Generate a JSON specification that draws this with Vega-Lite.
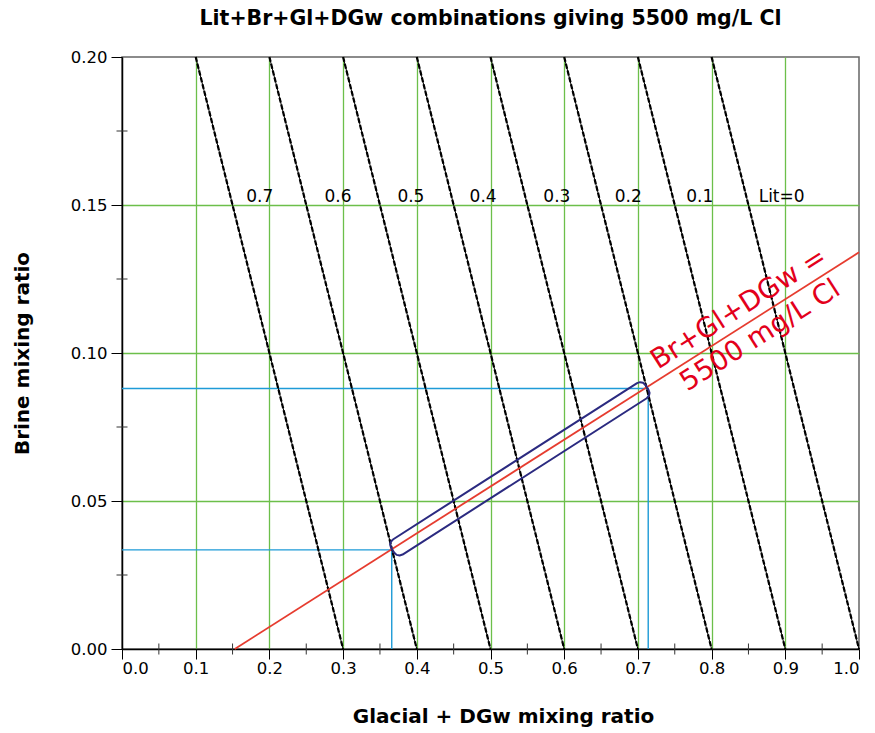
{
  "$schema": "https://vega.github.io/schema/vega-lite/v6.json",
  "width": 737,
  "height": 592,
  "autosize": {"type": "none"},
  "padding": {"left": 122, "top": 57, "right": 16, "bottom": 84},
  "background": "white",
  "config": {
    "view": {"stroke": "#666", "strokeWidth": 1.5},
    "font": "DejaVu Sans"
  },
  "title": {
    "text": "Lit+Br+Gl+DGw combinations giving 5500 mg/L Cl",
    "fontSize": 20.5,
    "fontWeight": "bold",
    "font": "DejaVu Sans",
    "color": "black",
    "anchor": "middle",
    "frame": "group",
    "offset": 20
  },
  "datasets": {
    "litlines": [
      {"lit": "0.7", "x": 0.1, "y": 0.2}, {"lit": "0.7", "x": 0.3, "y": 0},
      {"lit": "0.6", "x": 0.2, "y": 0.2}, {"lit": "0.6", "x": 0.4, "y": 0},
      {"lit": "0.5", "x": 0.3, "y": 0.2}, {"lit": "0.5", "x": 0.5, "y": 0},
      {"lit": "0.4", "x": 0.4, "y": 0.2}, {"lit": "0.4", "x": 0.6, "y": 0},
      {"lit": "0.3", "x": 0.5, "y": 0.2}, {"lit": "0.3", "x": 0.7, "y": 0},
      {"lit": "0.2", "x": 0.6, "y": 0.2}, {"lit": "0.2", "x": 0.8, "y": 0},
      {"lit": "0.1", "x": 0.7, "y": 0.2}, {"lit": "0.1", "x": 0.9, "y": 0},
      {"lit": "0", "x": 0.8, "y": 0.2}, {"lit": "0", "x": 1.0, "y": 0}
    ],
    "litlabels": [
      {"label": "0.7", "x": 0.187, "y": 0.1511},
      {"label": "0.6", "x": 0.293, "y": 0.1511},
      {"label": "0.5", "x": 0.392, "y": 0.1511},
      {"label": "0.4", "x": 0.490, "y": 0.1511},
      {"label": "0.3", "x": 0.590, "y": 0.1511},
      {"label": "0.2", "x": 0.687, "y": 0.1511},
      {"label": "0.1", "x": 0.784, "y": 0.1511},
      {"label": "Lit=0", "x": 0.895, "y": 0.1511}
    ],
    "bluelines": [
      {"id": "a", "o": 1, "x": 0, "y": 0.088},
      {"id": "a", "o": 2, "x": 0.714, "y": 0.088},
      {"id": "a", "o": 3, "x": 0.714, "y": 0},
      {"id": "b", "o": 1, "x": 0, "y": 0.0335},
      {"id": "b", "o": 2, "x": 0.366, "y": 0.0335},
      {"id": "b", "o": 3, "x": 0.366, "y": 0}
    ],
    "redline": [
      {"x": 0.153, "y": 0},
      {"x": 1.0, "y": 0.134}
    ],
    "box": [
      {"o": 1, "x": 0.3676, "y": 0.0370},
      {"o": 2, "x": 0.6989, "y": 0.08983},
      {"o": 3, "x": 0.7029, "y": 0.09015},
      {"o": 4, "x": 0.7070, "y": 0.08992},
      {"o": 5, "x": 0.7101, "y": 0.08922},
      {"o": 6, "x": 0.7145, "y": 0.08751},
      {"o": 7, "x": 0.7158, "y": 0.08651},
      {"o": 8, "x": 0.7149, "y": 0.08549},
      {"o": 9, "x": 0.7120, "y": 0.08471},
      {"o": 10, "x": 0.3807, "y": 0.0319},
      {"o": 11, "x": 0.3767, "y": 0.0316},
      {"o": 12, "x": 0.3726, "y": 0.0318},
      {"o": 13, "x": 0.3695, "y": 0.0325},
      {"o": 14, "x": 0.3651, "y": 0.0342},
      {"o": 15, "x": 0.3638, "y": 0.0352},
      {"o": 16, "x": 0.3647, "y": 0.0362},
      {"o": 17, "x": 0.3676, "y": 0.0370}
    ],
    "redtext": [
      {"t": "Br+Gl+DGw =", "x": 0.837, "y": 0.1149},
      {"t": "5500 mg/L Cl", "x": 0.866, "y": 0.1058}
    ],
    "xminor": [
      {"v": 0.05}, {"v": 0.15}, {"v": 0.25}, {"v": 0.35}, {"v": 0.45},
      {"v": 0.55}, {"v": 0.65}, {"v": 0.75}, {"v": 0.85}, {"v": 0.95}
    ],
    "yminor": [
      {"v": 0.025}, {"v": 0.075}, {"v": 0.125}, {"v": 0.175}
    ]
  },
  "layer": [
    {
      "data": {"name": "bluelines"},
      "mark": {"type": "line", "color": "#1e9bd7", "strokeWidth": 1.4},
      "encoding": {
        "x": {
          "field": "x", "type": "quantitative",
          "scale": {"domain": [0, 1], "nice": false, "zero": false},
          "axis": {
            "values": [0, 0.1, 0.2, 0.3, 0.4, 0.5, 0.6, 0.7, 0.8, 0.9, 1.0],
            "format": ".1f",
            "title": "Glacial + DGw mixing ratio",
            "titleFontSize": 20,
            "titleFontWeight": "bold",
            "titleColor": "black",
            "titleFont": "DejaVu Sans",
            "titlePadding": 30,
            "titleX": 381,
            "labelFontSize": 16.5,
            "labelColor": "black",
            "labelFont": "DejaVu Sans",
            "labelPadding": 1,
            "tickSize": 10,
            "tickColor": "black",
            "domainColor": "black",
            "domainWidth": 1.5,
            "grid": true,
            "gridColor": {"condition": {"test": "datum.value < 0.01 || datum.value > 0.99", "value": "transparent"}, "value": "#6cbf4a"},
            "gridWidth": 1.3,
            "gridOpacity": 1
          }
        },
        "y": {
          "field": "y", "type": "quantitative",
          "scale": {"domain": [0, 0.2], "nice": false, "zero": false},
          "axis": {
            "values": [0, 0.05, 0.1, 0.15, 0.2],
            "format": ".2f",
            "title": "Brine mixing ratio",
            "titleFontSize": 20,
            "titleFontWeight": "bold",
            "titleColor": "black",
            "titleFont": "DejaVu Sans",
            "titlePadding": 38,
            "labelFontSize": 16.5,
            "labelColor": "black",
            "labelFont": "DejaVu Sans",
            "labelPadding": 4,
            "tickSize": 11,
            "tickColor": "black",
            "domainColor": "black",
            "domainWidth": 1.5,
            "grid": true,
            "gridColor": {"condition": {"test": "datum.value < 0.001 || datum.value > 0.199", "value": "transparent"}, "value": "#6cbf4a"},
            "gridWidth": 1.3,
            "gridOpacity": 1
          }
        },
        "detail": {"field": "id"},
        "order": {"field": "o"}
      }
    },
    {
      "data": {"name": "litlines"},
      "mark": {"type": "line", "color": "black", "strokeWidth": 1},
      "encoding": {
        "x": {"field": "x", "type": "quantitative"},
        "y": {"field": "y", "type": "quantitative"},
        "detail": {"field": "lit"}
      }
    },
    {
      "data": {"name": "litlines"},
      "mark": {"type": "line", "color": "black", "strokeWidth": 2.2, "strokeDash": [5, 2]},
      "encoding": {
        "x": {"field": "x", "type": "quantitative"},
        "y": {"field": "y", "type": "quantitative"},
        "detail": {"field": "lit"}
      }
    },
    {
      "data": {"name": "redline"},
      "mark": {"type": "line", "color": "#e63c2f", "strokeWidth": 1.8},
      "encoding": {
        "x": {"field": "x", "type": "quantitative"},
        "y": {"field": "y", "type": "quantitative"}
      }
    },
    {
      "data": {"name": "box"},
      "mark": {"type": "line", "color": "#2b2a80", "strokeWidth": 2, "strokeJoin": "round"},
      "encoding": {
        "x": {"field": "x", "type": "quantitative"},
        "y": {"field": "y", "type": "quantitative"},
        "order": {"field": "o"}
      }
    },
    {
      "data": {"name": "litlabels"},
      "mark": {"type": "text", "fontSize": 17, "font": "DejaVu Sans", "color": "black", "align": "center", "baseline": "alphabetic"},
      "encoding": {
        "x": {"field": "x", "type": "quantitative"},
        "y": {"field": "y", "type": "quantitative"},
        "text": {"field": "label"}
      }
    },
    {
      "data": {"name": "redtext"},
      "mark": {"type": "text", "fontSize": 27.5, "font": "DejaVu Sans", "color": "#e3001b", "align": "center", "baseline": "middle", "angle": 327.6},
      "encoding": {
        "x": {"field": "x", "type": "quantitative"},
        "y": {"field": "y", "type": "quantitative"},
        "text": {"field": "t"}
      }
    },
    {
      "data": {"name": "xminor"},
      "mark": {"type": "tick", "orient": "vertical", "size": 11, "thickness": 1, "color": "#333", "opacity": 1},
      "encoding": {
        "x": {"field": "v", "type": "quantitative"},
        "y": {"datum": 0, "type": "quantitative"}
      }
    },
    {
      "data": {"name": "yminor"},
      "mark": {"type": "tick", "orient": "horizontal", "size": 11, "thickness": 1, "color": "#333", "opacity": 1},
      "encoding": {
        "y": {"field": "v", "type": "quantitative"},
        "x": {"datum": 0, "type": "quantitative"}
      }
    }
  ]
}
